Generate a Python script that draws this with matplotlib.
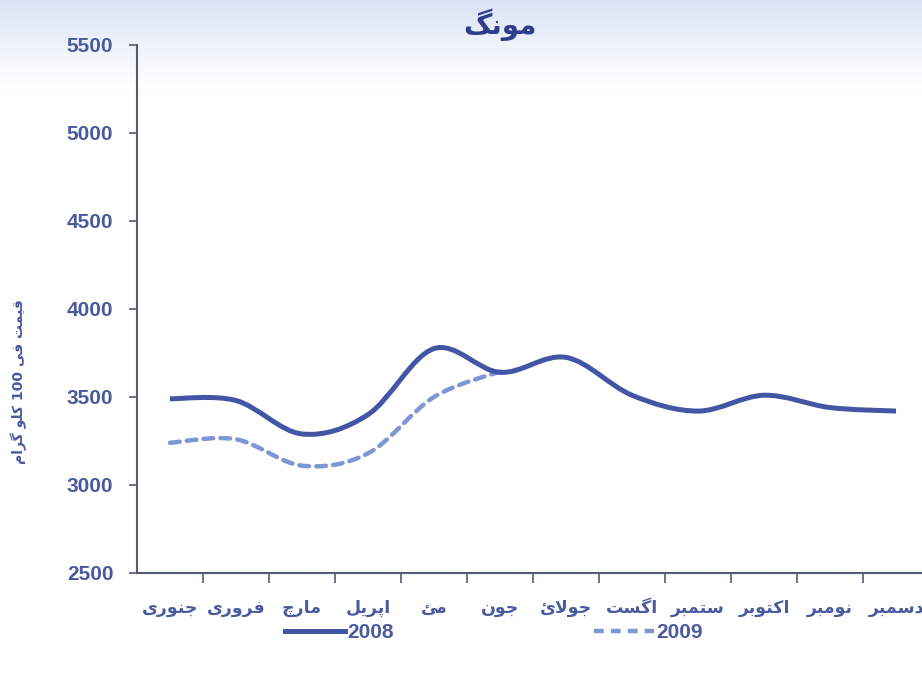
import numpy as np
import matplotlib.pyplot as plt
from matplotlib.path import Path
from matplotlib.patches import PathPatch
from matplotlib.lines import Line2D

# monthly prices per 100 kg
months = ['جنوری', 'فروری', 'مارچ', 'اپریل', 'مئ', 'جون',
          'جولائ', 'اگست', 'ستمبر', 'اکتوبر', 'نومبر', 'دسمبر']
price2008 = [3490, 3480, 3290, 3400, 3775, 3640, 3725, 3510, 3420, 3510, 3440, 3420]
price2009 = [3240, 3260, 3110, 3180, 3500, 3645]

title = 'مونگ'
ylabel = 'قیمت فی 100 کلو گرام'

# arabic presentation forms: isolated, final, initial, medial (None = no joining to the left)
FORMS = {
    'ا': ('\uFE8D', '\uFE8E', None, None),
    'ب': ('\uFE8F', '\uFE90', '\uFE91', '\uFE92'),
    'پ': ('\uFB56', '\uFB57', '\uFB58', '\uFB59'),
    'ت': ('\uFE95', '\uFE96', '\uFE97', '\uFE98'),
    'ج': ('\uFE9D', '\uFE9E', '\uFE9F', '\uFEA0'),
    'چ': ('\uFB7A', '\uFB7B', '\uFB7C', '\uFB7D'),
    'د': ('\uFEA9', '\uFEAA', None, None),
    'ر': ('\uFEAD', '\uFEAE', None, None),
    'س': ('\uFEB1', '\uFEB2', '\uFEB3', '\uFEB4'),
    'ف': ('\uFED1', '\uFED2', '\uFED3', '\uFED4'),
    'ق': ('\uFED5', '\uFED6', '\uFED7', '\uFED8'),
    'ک': ('\uFB8E', '\uFB8F', '\uFB90', '\uFB91'),
    'گ': ('\uFB92', '\uFB93', '\uFB94', '\uFB95'),
    'ل': ('\uFEDD', '\uFEDE', '\uFEDF', '\uFEE0'),
    'م': ('\uFEE1', '\uFEE2', '\uFEE3', '\uFEE4'),
    'ن': ('\uFEE5', '\uFEE6', '\uFEE7', '\uFEE8'),
    'و': ('\uFEED', '\uFEEE', None, None),
    'ی': ('\uFBFC', '\uFBFD', '\uFBFE', '\uFBFF'),
    'ئ': ('\uFE89', '\uFE8A', '\uFE8B', '\uFE8C'),
}


def shape_word(word):
    # join letters, handle lam-alef, return glyphs in visual order
    out = []
    prev_joins = False
    i = 0
    while i < len(word):
        ch = word[i]
        if ch == 'ل' and i + 1 < len(word) and word[i + 1] == 'ا':
            out.append('\uFEFC' if prev_joins else '\uFEFB')
            prev_joins = False
            i += 2
            continue
        f = FORMS[ch]
        nxt = word[i + 1] if i + 1 < len(word) else None
        next_joins = f[2] is not None and nxt in FORMS
        if prev_joins and next_joins:
            out.append(f[3])
        elif prev_joins:
            out.append(f[1])
        elif next_joins:
            out.append(f[2])
        else:
            out.append(f[0])
        prev_joins = next_joins
        i += 1
    return ''.join(reversed(out))


def rtl(text):
    words = []
    for w in text.split(' '):
        words.append(w if w.isdigit() else shape_word(w))
    return ' '.join(reversed(words))


def smooth_path(xs, ys):
    # catmull-rom segments written as cubic bezier curves
    pts = np.column_stack([xs, ys]).astype(float)
    verts = [pts[0]]
    codes = [Path.MOVETO]
    n = len(pts)
    for i in range(n - 1):
        p0 = pts[i - 1] if i > 0 else pts[i]
        p1 = pts[i]
        p2 = pts[i + 1]
        p3 = pts[i + 2] if i + 2 < n else pts[i + 1]
        c1 = p1 + (p2 - p0) / 6.0
        c2 = p2 - (p3 - p1) / 6.0
        verts += [c1, c2, p2]
        codes += [Path.CURVE4] * 3
    return Path(verts, codes)


W, H = 922, 677
fig = plt.figure(figsize=(W / 100, H / 100), dpi=100)

# pale blue band across the top
bg = fig.add_axes([0, 0, 1, 1], zorder=-5)
rgba = np.zeros((677, 1, 4))
top = np.linspace(0, 1, 677)
alpha = np.clip(1 - top / 0.14, 0, 1) ** 1.3 * 0.5
rgba[:, 0, 0] = 0.70
rgba[:, 0, 1] = 0.78
rgba[:, 0, 2] = 0.93
rgba[:, 0, 3] = alpha
bg.imshow(rgba, aspect='auto', extent=[0, 1, 0, 1], origin='upper')
bg.axis('off')

lineC = '#4356a6'
dashC = '#7e96d3'
textC = '#4a5a9e'
axC = '#555b70'
numFont = {'family': 'Liberation Sans', 'size': 15, 'weight': 'bold'}

ax = fig.add_axes([137 / W, 1 - 573 / H, 792 / W, 528 / H])
ax.set_facecolor('none')
ax.set_xlim(0, 12)
ax.set_ylim(2500, 5500)

x = np.arange(len(months)) + 0.5
ax.add_patch(PathPatch(smooth_path(x, price2008), fill=False, color=lineC,
                       lw=3.6, capstyle='butt', joinstyle='round', zorder=3))
x9 = np.arange(len(price2009)) + 0.5
ax.add_patch(PathPatch(smooth_path(x9, price2009), fill=False, color=dashC,
                       lw=3.2, linestyle=(0, (2.2, 1.6)), capstyle='round', zorder=2))

for s in ['top', 'right']:
    ax.spines[s].set_visible(False)
for s in ['left', 'bottom']:
    ax.spines[s].set_color(axC)
    ax.spines[s].set_linewidth(1.5)

ax.set_yticks(np.arange(2500, 5501, 500))
ax.tick_params(axis='y', length=6, width=1.2, color=axC, pad=11, labelcolor=textC)
for lb in ax.get_yticklabels():
    lb.set_fontproperties(numFont)

ax.set_xticks(np.arange(1, 12))
ax.set_xticklabels([])
ax.tick_params(axis='x', which='major', length=7, width=1.2, color=axC)
ax.set_xticks(x, minor=True)
ax.set_xticklabels([rtl(m) for m in months], minor=True)
ax.tick_params(axis='x', which='minor', length=0, pad=19, labelcolor=textC, labelsize=12.5)
for lb in ax.get_xticklabels(minor=True):
    lb.set_fontweight('bold')
    lb.set_family('DejaVu Sans')

fig.text(500 / W, 1 - 25 / H, rtl(title), ha='center', va='center',
         fontsize=20, fontweight='bold', color='#2f3d8c', family='DejaVu Sans')
fig.text(19 / W, 1 - 382 / H, rtl(ylabel), ha='center', va='center', rotation=90,
         fontsize=10, fontweight='bold', color=textC, family='DejaVu Sans')

handles = [Line2D([], [], color=lineC, lw=3.6),
           Line2D([], [], color=dashC, lw=3.2, linestyle=(0, (2.2, 1.6)))]
fig.legend(handles, ['2008', '2009'], loc='center', ncol=2, frameon=False,
           bbox_to_anchor=(494 / W, 1 - 633 / H), handlelength=2.9, handletextpad=0.1,
           columnspacing=9.6, prop=numFont, labelcolor=textC)

fig.savefig('out.png', dpi=100)
